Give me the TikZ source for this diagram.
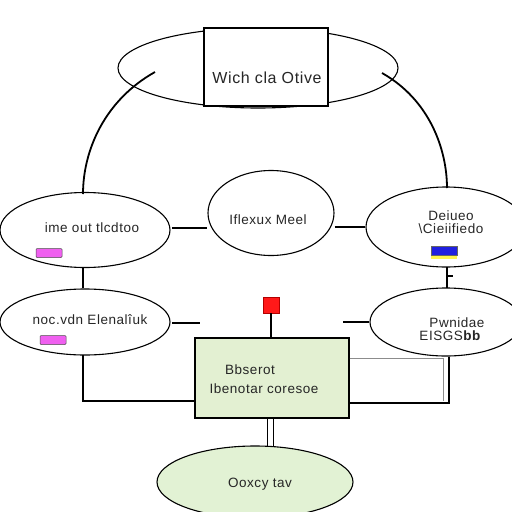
\documentclass[tikz,border=0pt]{standalone}
\usepackage{fontspec}
\setmainfont{Liberation Sans}[LetterSpace=4]
\usetikzlibrary{shapes.geometric}
\definecolor{boxgreen}{HTML}{E3F0D2}
\definecolor{ovalgreen}{HTML}{E2F2D4}
\definecolor{mag}{HTML}{F060F0}
\definecolor{blu}{HTML}{2020E0}
\tikzset{
  oval/.style={ellipse, draw=black, line width=1.1pt, fill=white, inner sep=0pt},
  lbl/.style={font=\fontsize{13.5}{15}\selectfont, text=black!85},
  wire/.style={draw=black, line width=1.4pt},
  thinwire/.style={draw=black!45, line width=0.6pt},
  tag/.style={draw=black!70, line width=0.5pt, rounded corners=1pt}
}
\begin{document}
\begin{tikzpicture}[x=1pt,y=-1pt]
\useasboundingbox (0,0) rectangle (512,512);
% top
\node[oval, minimum width=280pt, minimum height=80pt] (top) at (258,68) {};
\node[draw=black, line width=1.1pt, fill=white, minimum width=124pt, minimum height=78pt] (topbox) at (266,67) {};
\node[lbl, font=\fontsize{16}{18}\selectfont] (toptxt) at (267,78) {Wich cla Otive};
% left ellipses
\node[oval, minimum width=170pt, minimum height=75pt] (l1) at (85,230) {};
\node[lbl] (l1t) at (92,228) {ime out tlcdtoo};
\node[tag, fill=mag, minimum width=26pt, minimum height=9pt, inner sep=0pt] (l1m) at (49,253) {};
\node[oval, minimum width=170pt, minimum height=66pt] (l2) at (85,322) {};
\node[lbl] (l2t) at (90,320) {noc.vdn Elenalîuk};
\node[tag, fill=mag, minimum width=26pt, minimum height=9pt, inner sep=0pt] (l2m) at (53,340) {};
% middle
\node[oval, minimum width=126pt, minimum height=85pt] (mid) at (271,213) {};
\node[lbl] (midt) at (268,220) {Iflexux Meel};
% right ellipses
\node[oval, minimum width=160pt, minimum height=80pt] (r1) at (446,227) {};
\node[lbl, align=center] (r1t) at (451,222) {Deiueo\\[-2pt]\textbackslash Cieiifiedo};
\node[draw=black!60, fill=blu, minimum width=26pt, minimum height=9pt, inner sep=0pt] (r1m) at (444,251) {};
\node[fill=yellow!70!white, minimum width=26pt, minimum height=3pt, inner sep=0pt] (r1y) at (444,257.5) {};
\node[oval, minimum width=152pt, minimum height=68pt] (r2) at (446,322) {};
\node[lbl, align=left] (r2t) at (452,329) {\hspace*{10pt}Pwnidae\\[-2pt]EISGS\textbf{bb}};
% box
\node[draw=black, line width=1.1pt, fill=boxgreen, minimum width=154pt, minimum height=80pt] (box) at (272,378) {};
\node[lbl] (boxt1) at (250,370) {Bbserot};
\node[lbl] (boxt2) at (264,389) {Ibenotar coresoe};
\node[draw=red!70!black, line width=0.5pt, fill=red!90!white, minimum size=16pt, inner sep=0pt] (red) at (271,305) {};
% bottom ellipse
\node[ellipse, draw=black, line width=1.1pt, fill=ovalgreen, minimum width=196pt, minimum height=72pt] (bot) at (255,482) {};
\node[lbl] (bott) at (260,484) {Ooxcy tav};
% connectors
\coordinate (tlA) at (155,72);
\coordinate (trA) at (382,73);
\draw[wire, line width=1.8pt] (tlA) .. controls (105,100) and (83,150) .. (83,194);
\draw[wire, line width=1.8pt] (trA) .. controls (430,100) and (447,150) .. (447,188);
\draw[wire] (l1.south) ++(-2,0) -- (l2.north -| 83,0);
\draw[wire] (172,228) -- (mid.west |- 0,228);
\draw[wire] (mid.east |- 0,227) -- (r1.west |- 0,227);
\draw[wire] (172,323) -- (200,323);
\draw[wire] (343,322) -- (r2.west |- 0,322);
\draw[wire] (447,267) -- (447,288);
\draw[wire] (447,276) -- (453,276);
\draw[wire] (red.south) -- (box.north -| red.south);
\draw[wire] (83,355) -- (83,401) -- (box.west |- 0,401);
\draw[wire] (box.east |- 0,403) -- (449,403) -- (449,357);
\draw[thinwire] (box.east |- 0,358) -- (443,358) -- (443,401);
\draw[wire, line width=1pt] (267,418) -- (267,447);
\draw[wire, line width=1pt] (273,418) -- (273,447);
\end{tikzpicture}
\end{document}
